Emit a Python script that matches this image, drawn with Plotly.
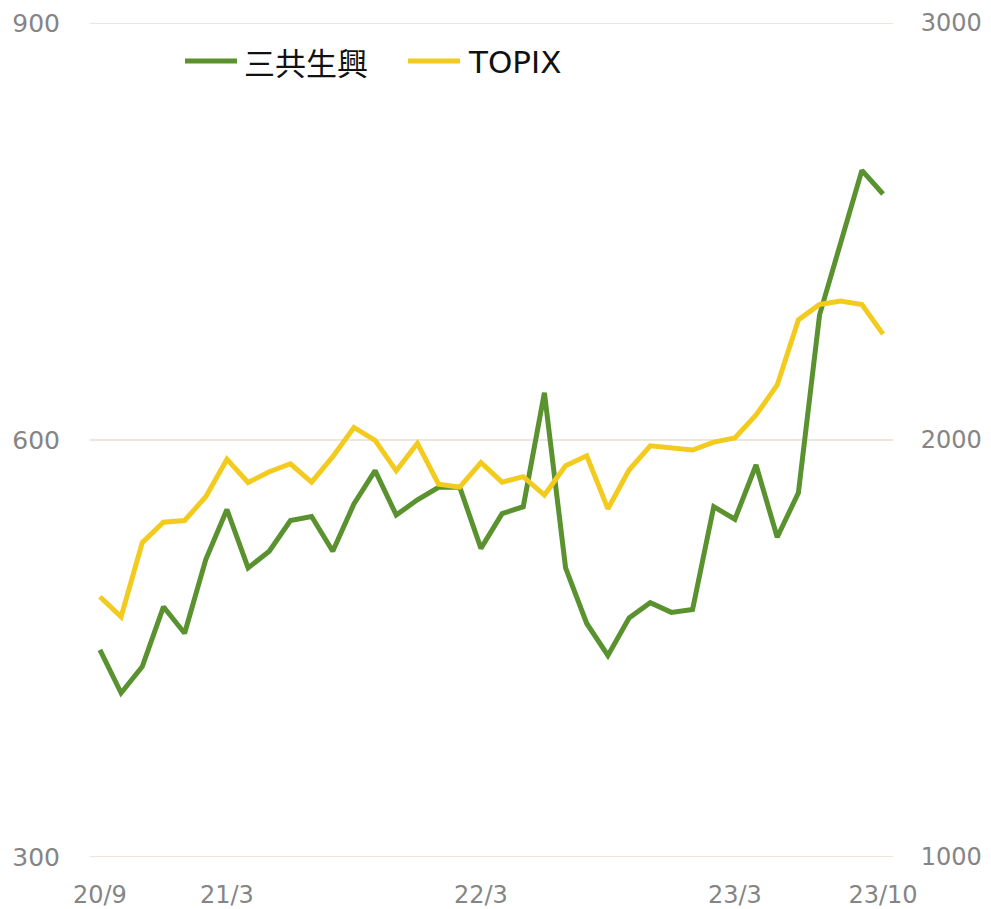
import plotly.graph_objects as go

months = ["20/9","20/10","20/11","20/12","21/1","21/2","21/3","21/4","21/5","21/6","21/7","21/8",
          "21/9","21/10","21/11","21/12","22/1","22/2","22/3","22/4","22/5","22/6","22/7","22/8",
          "22/9","22/10","22/11","22/12","23/1","23/2","23/3","23/4","23/5","23/6","23/7","23/8",
          "23/9","23/10"]
sankyo = [449, 418, 437, 480, 461, 514, 550, 508, 520, 542, 545, 520,
          554, 578, 546, 557, 566, 566, 522, 547, 552, 634, 508, 468,
          445, 472, 483, 476, 478, 552, 543, 582, 530, 562, 690, 742,
          794, 777]
topix = [1624, 1576, 1754, 1803, 1807, 1864, 1954, 1898, 1924, 1943, 1899, 1960,
         2030, 1999, 1926, 1992, 1894, 1887, 1946, 1899, 1912, 1868, 1938, 1962,
         1835, 1928, 1986, 1982, 1976, 1995, 2005, 2060, 2132, 2288, 2325, 2333,
         2325, 2254]
xtick_labels = ["20/9", "21/3", "22/3", "23/3", "23/10"]
left_ticks = [300, 600, 900]
right_ticks = [1000, 2000, 3000]
series_names = ["三共生興", "TOPIX"]

GREEN = "#5a922f"
YELLOW = "#f3cb1f"
FONT = "DejaVu Sans, Noto Sans CJK JP"
GRAY = "#858585"
GRID = "#ece6df"

idx = list(range(len(months)))
xtick_vals = [months.index(m) for m in xtick_labels]

fig = go.Figure()
fig.add_trace(go.Scatter(x=idx, y=sankyo, mode="lines", name=series_names[0],
                         line=dict(color=GREEN, width=5), yaxis="y"))
fig.add_trace(go.Scatter(x=idx, y=topix, mode="lines", name=series_names[1],
                         line=dict(color=YELLOW, width=5), yaxis="y2"))

# the page body has an 8px margin; shift the figure so the plot lands where the reference has it
OFF = 8
W, H = 991 - OFF, 909 - OFF
L, T = 90 - OFF, 23 - OFF
R = W - (893 - OFF)
B = H - (857 - OFF)
pw, ph = W - L - R, H - T - B

def px(xp):  # page pixel -> paper x
    return (xp - OFF - L) / pw

def py(yp):  # page pixel -> paper y
    return (H - B - (yp - OFF)) / ph

LEG_Y = 61
shapes = [
    dict(type="line", xref="paper", yref="paper", x0=px(185), x1=px(237), y0=py(LEG_Y), y1=py(LEG_Y),
         line=dict(color=GREEN, width=5)),
    dict(type="line", xref="paper", yref="paper", x0=px(408), x1=px(460), y0=py(LEG_Y), y1=py(LEG_Y),
         line=dict(color=YELLOW, width=5)),
]
# gridlines at the ends of the range (plotly omits them at the plot edges)
for v in (left_ticks[0], left_ticks[-1]):
    shapes.append(dict(type="line", xref="paper", yref="y", x0=0, x1=1, y0=v, y1=v,
                       layer="below", line=dict(color=GRID, width=2)))

annotations = [
    dict(xref="paper", yref="paper", x=px(242), y=py(LEG_Y + 3), text=series_names[0], showarrow=False,
         xanchor="left", yanchor="middle", font=dict(family=FONT, size=31, color="#111111")),
    dict(xref="paper", yref="paper", x=px(466), y=py(LEG_Y + 1), text=series_names[1], showarrow=False,
         xanchor="left", yanchor="middle", font=dict(family=FONT, size=31, color="#111111")),
]

common = dict(zeroline=False, showline=False, automargin=False,
              ticks="outside", tickcolor="rgba(0,0,0,0)")

fig.update_layout(
    width=W, height=H,
    margin=dict(l=L, r=R, t=T, b=B, pad=0),
    paper_bgcolor="white", plot_bgcolor="white",
    showlegend=False,
    font=dict(family=FONT, size=25, color=GRAY),
    shapes=shapes, annotations=annotations,
    xaxis=dict(range=[-0.47, len(months) - 1 + 0.47], tickvals=xtick_vals, ticktext=xtick_labels,
               showgrid=False, ticklen=16, tickfont=dict(family=FONT, size=24, color=GRAY), **common),
    yaxis=dict(range=[300, 900], tickvals=left_ticks, showgrid=True, gridcolor=GRID, gridwidth=2,
               ticklen=24, tickfont=dict(family=FONT, size=25, color=GRAY), **common),
    yaxis2=dict(range=[1000, 3000], tickvals=right_ticks, overlaying="y", side="right",
                showgrid=False, ticklen=22, tickfont=dict(family=FONT, size=24, color=GRAY), **common),
)

fig.write_html("out.html")
